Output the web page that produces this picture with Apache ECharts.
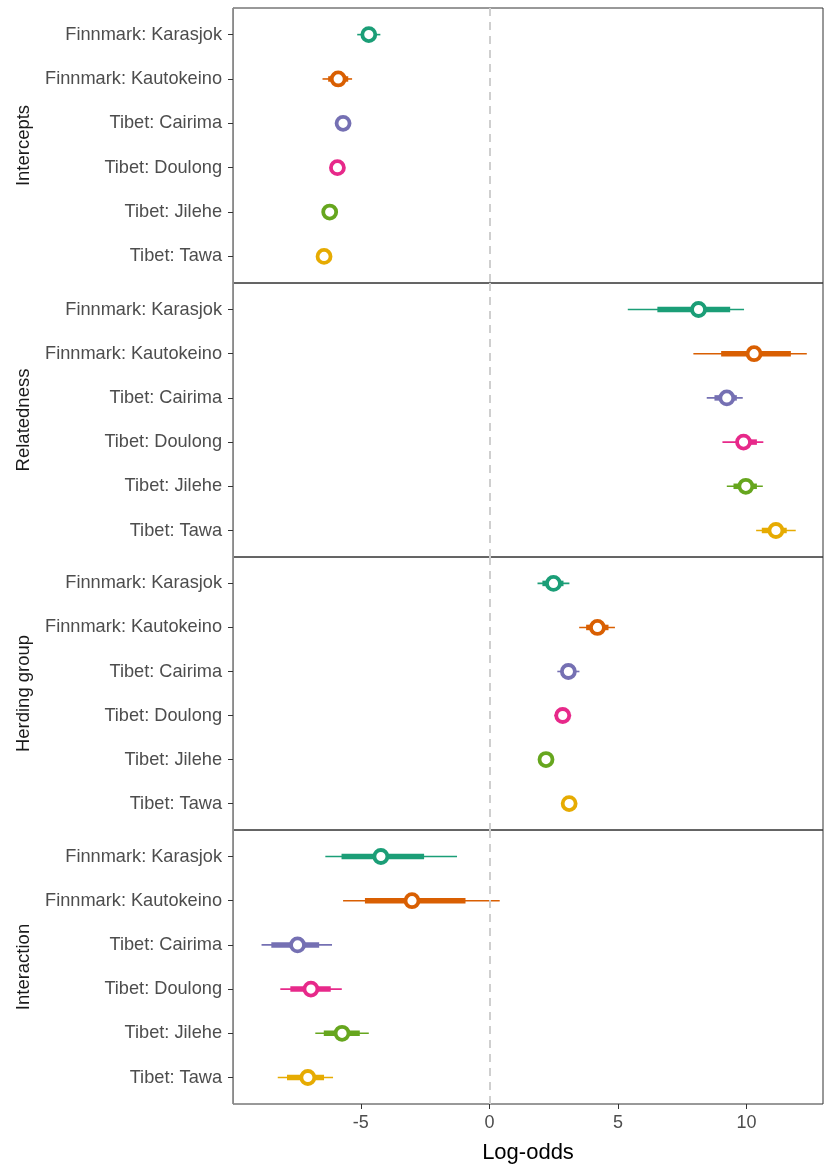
<!DOCTYPE html>
<html>
<head>
<meta charset="utf-8">
<script src="https://cdn.jsdelivr.net/npm/echarts@6/dist/echarts.min.js"></script>
<style>
  html, body { margin: 0; padding: 0; background: #fff; }
  #chart { width: 824px; height: 1166px; }
</style>
</head>
<body>
<div id="chart"></div>
<script>
// groups (rows) and panels
const categories = ['Finnmark: Karasjok', 'Finnmark: Kautokeino', 'Tibet: Cairima', 'Tibet: Doulong', 'Tibet: Jilehe', 'Tibet: Tawa']
const panelNames = ['Intercepts', 'Relatedness', 'Herding group', 'Interaction']
const xTicks = [-5, 0, 5, 10]

// Intercepts
const interceptMid = [-4.69, -5.88, -5.69, -5.91, -6.21, -6.43]
const interceptThinLo = [-5.14, -6.49, -5.95, -6.15, -6.45, -6.68]
const interceptThinHi = [-4.24, -5.34, -5.43, -5.67, -5.97, -6.18]
const interceptThickLo = [-4.92, -6.27, -5.82, -6.03, -6.33, -6.56]
const interceptThickHi = [-4.46, -5.49, -5.56, -5.79, -6.09, -6.30]

// Relatedness
const relatedMid = [8.13, 10.29, 9.23, 9.88, 9.97, 11.14]
const relatedThinLo = [5.38, 7.93, 8.45, 9.06, 9.23, 10.37]
const relatedThinHi = [9.90, 12.34, 9.85, 10.65, 10.63, 11.91]
const relatedThickLo = [6.53, 9.01, 8.75, 9.62, 9.49, 10.59]
const relatedThickHi = [9.36, 11.72, 9.62, 10.40, 10.40, 11.56]

// Herding group
const herdMid = [2.49, 4.20, 3.07, 2.85, 2.20, 3.10]
const herdThinLo = [1.87, 3.49, 2.64, 2.52, 1.95, 2.85]
const herdThinHi = [3.11, 4.88, 3.50, 3.18, 2.45, 3.35]
const herdThickLo = [2.06, 3.76, 2.85, 2.66, 2.07, 2.97]
const herdThickHi = [2.88, 4.63, 3.32, 3.04, 2.33, 3.23]

// Interaction
const interMid = [-4.22, -3.01, -7.46, -6.94, -5.73, -7.06]
const interThinLo = [-6.38, -5.69, -8.86, -8.13, -6.77, -8.23]
const interThinHi = [-1.26, 0.40, -6.12, -5.74, -4.69, -6.08]
const interThickLo = [-5.75, -4.84, -8.48, -7.74, -6.44, -7.87]
const interThickHi = [-2.54, -0.93, -6.62, -6.17, -5.04, -6.43]

const panelData = [
    [interceptMid, interceptThinLo, interceptThinHi, interceptThickLo, interceptThickHi],
    [relatedMid, relatedThinLo, relatedThinHi, relatedThickLo, relatedThickHi],
    [herdMid, herdThinLo, herdThinHi, herdThickLo, herdThickHi],
    [interMid, interThinLo, interThinHi, interThickLo, interThickHi]
]

const palette = ['#1B9E77', '#D95F02', '#7570B3', '#E7298A', '#66A61E', '#E6AB02']
const font = '"Liberation Sans", Arial, sans-serif'

// panel pixel bounds
const panelTops = [8, 283, 557, 830]
const panelBottoms = [283, 557, 830, 1104]

const renderInterval = (width) => (params, api) => {
    const a = api.coord([api.value(0), api.value(2)])
    const b = api.coord([api.value(1), api.value(2)])
    return {
        type: 'line',
        shape: { x1: a[0], y1: a[1], x2: b[0], y2: b[1] },
        style: { stroke: palette[api.value(3)], lineWidth: width }
    }
}

const grids = [], xAxes = [], yAxes = [], series = []
panelNames.forEach((name, p) => {
    const last = p === panelNames.length - 1
    grids.push({
        left: 233,
        right: 1,
        top: panelTops[p],
        height: panelBottoms[p] - panelTops[p],
        outerBoundsMode: 'none',
        containLabel: false,
        show: true,
        borderColor: '#333333',
        borderWidth: 1
    })
    xAxes.push({
        type: 'value',
        gridIndex: p,
        min: -9.97,
        max: 12.97,
        splitLine: { show: false },
        axisLine: { show: false, onZero: false },
        axisTick: { show: last, length: 5, lineStyle: { color: '#333333' }, customValues: xTicks },
        axisLabel: { show: last, customValues: xTicks, color: '#4d4d4d', fontSize: 18, fontFamily: font, margin: 10 },
        name: last ? 'Log-odds' : '',
        nameLocation: 'middle',
        nameGap: 38,
        nameTextStyle: { color: '#000', fontSize: 22, fontFamily: font }
    })
    yAxes.push({
        type: 'value',
        gridIndex: p,
        inverse: true,
        min: 0.4,
        max: 6.6,
        splitLine: { show: false },
        axisLine: { show: true, onZero: false, lineStyle: { color: '#8a8a8a', width: 1 } },
        axisTick: { show: true, length: 5, lineStyle: { color: '#333333' }, customValues: [1, 2, 3, 4, 5, 6] },
        axisLabel: {
            customValues: [1, 2, 3, 4, 5, 6],
            formatter: v => categories[v - 1],
            color: '#4d4d4d',
            fontSize: 18.2,
            fontFamily: font,
            margin: 11
        },
        name: name,
        nameLocation: 'middle',
        nameRotate: 90,
        nameGap: 200,
        nameTextStyle: { color: '#1a1a1a', fontSize: 18.5, fontFamily: font }
    })

    const [mid, thinLo, thinHi, thickLo, thickHi] = panelData[p]
    series.push({
        type: 'custom',
        xAxisIndex: p,
        yAxisIndex: p,
        renderItem: renderInterval(1.6),
        encode: { x: [0, 1], y: 2 },
        data: categories.map((c, i) => [thinLo[i], thinHi[i], i + 1, i]),
        silent: true,
        markLine: {
            silent: true,
            symbol: 'none',
            label: { show: false },
            lineStyle: { color: '#cfcfcf', type: [8, 6], width: 2 },
            data: [{ xAxis: 0 }]
        },
        z: 2
    })
    series.push({
        type: 'custom',
        xAxisIndex: p,
        yAxisIndex: p,
        renderItem: renderInterval(5.5),
        encode: { x: [0, 1], y: 2 },
        data: categories.map((c, i) => [thickLo[i], thickHi[i], i + 1, i]),
        silent: true,
        z: 3
    })
    series.push({
        type: 'scatter',
        xAxisIndex: p,
        yAxisIndex: p,
        symbol: 'circle',
        symbolSize: 13,
        itemStyle: { color: '#ffffff', borderWidth: 3.8, opacity: 1 },
        data: mid.map((v, i) => ({ value: [v, i + 1], itemStyle: { borderColor: palette[i] } })),
        silent: true,
        z: 4
    })
})

const myChart = echarts.init(document.getElementById('chart'))
myChart.setOption({
    animation: false,
    grid: grids,
    xAxis: xAxes,
    yAxis: yAxes,
    series: series
})
</script>
</body>
</html>
